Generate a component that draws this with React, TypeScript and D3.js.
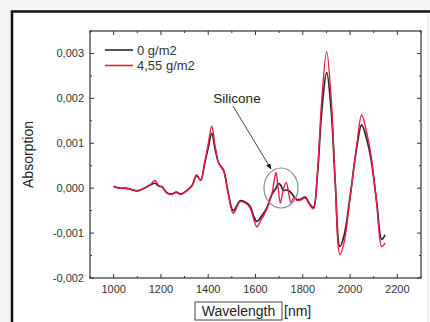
import React from "react";
import * as d3 from "d3";

// wavelength [nm]
const wavelength = [
  1000, 1025, 1050, 1070, 1100, 1130, 1155, 1175, 1190, 1205,
  1225, 1245, 1265, 1285, 1310, 1333, 1350, 1368, 1385, 1400,
  1415, 1430, 1445, 1465, 1485, 1506, 1535, 1556, 1577, 1592,
  1606, 1626, 1647, 1668, 1680, 1687, 1695, 1705, 1718, 1730,
  1740, 1750, 1762, 1775, 1790, 1810, 1830, 1845, 1862, 1880,
  1901, 1920, 1937, 1957, 1975, 2000, 2028, 2049, 2070, 2090,
  2113, 2134, 2148,
];

// absorption, 0 g/m2
const abs0 = [
  0.00004, 0.0, 0.0, -0.00002, -0.00006, 0.0, 0.00007, 0.00011, 0.00005, 0.00003,
  -0.0001, -0.00013, -0.00009, -0.00013, -0.00005, 0.00007, 0.00028, 0.00018, 0.00055, 0.0009,
  0.00122, 0.00085, 0.00055, 0.0004, -0.00011, -0.0005, -0.00028, -0.00031, -0.0004, -0.00062,
  -0.00074, -0.00062, -0.00045, -0.00015, -0.00005, 0.0, 0.0001, 0.00008, -0.00005, -0.00004,
  -0.00005, -0.0001, -0.00018, -0.00025, -0.00025, -0.0002, -0.00036, -0.00043, 0.0003, 0.0017,
  0.00258, 0.00175, 0.00015, -0.0013, -0.00105, -0.00019, 0.0009, 0.00141, 0.0011, 0.0006,
  -0.00033, -0.00114, -0.00104,
];

// absorption, 4,55 g/m2
const abs455 = [
  0.00004, 0.0, -0.00001, -0.00002, -0.00006, 0.0, 0.00008, 0.00017, 0.00006, 0.00002,
  -0.00011, -0.00014, -0.0001, -0.00014, -0.00006, 0.00006, 0.0003, 0.00017, 0.00058, 0.00098,
  0.00138, 0.00092, 0.00055, 0.00038, -0.00014, -0.00056, -0.0003, -0.00033, -0.00044, -0.00068,
  -0.00086, -0.00068, -0.00048, -0.00016, 0.0002, 0.00035, 0.00005, -0.00033, -0.00002, 0.00013,
  -0.0001, -0.00032, -0.00022, -0.00027, -0.00027, -0.00022, -0.00038, -0.00046, 0.00035, 0.00195,
  0.00304, 0.002, 0.00018, -0.00148, -0.0012, -0.00022, 0.00095, 0.00163, 0.00125, 0.00068,
  -0.00036, -0.0013, -0.00122,
];

const xMajor = [1000, 1200, 1400, 1600, 1800, 2000, 2200];
const xMinor = [900, 1100, 1300, 1500, 1700, 1900, 2100, 2300];
const yMajor = [-0.002, -0.001, 0, 0.001, 0.002, 0.003];
const yMinor = [-0.0015, -0.0005, 0.0005, 0.0015, 0.0025, 0.0035];
const seriesNames = ["0 g/m2", "4,55 g/m2"];

const W = 430;
const H = 322;
const m = { left: 90, top: 31, right: 421, bottom: 278 };
const font = "'Liberation Sans', Arial, sans-serif";

export default function App() {
  const x = d3.scaleLinear().domain([900, 2300]).range([m.left, m.right]);
  const y = d3.scaleLinear().domain([-0.002, 0.0035]).range([m.bottom, m.top]);

  const line = d3
    .line<number>()
    .x((_, i) => x(wavelength[i]))
    .y((d) => y(d))
    .curve(d3.curveCatmullRom.alpha(0.5));

  const fmt = (v: number) => d3.format(".3f")(v).replace("−", "-").replace(".", ",");

  return (
    <svg
      width={W}
      height={H}
      style={{ position: "absolute", left: 0, top: 0, display: "block" }}
      fontFamily={font}
    >
      <rect x={0} y={0} width={W} height={H} fill="#f3f3f3" />
      <rect x={12} y={11.5} width={W + 20} height={H + 20} fill="#fff" stroke="#111" strokeWidth={2.5} />
      <line x1={428} y1={14} x2={428} y2={H} stroke="#ddd" strokeWidth={1} />

      {/* ticks, all inward */}
      {xMajor.map((t) => (
        <g key={"xM" + t}>
          <line x1={x(t)} x2={x(t)} y1={m.bottom} y2={m.bottom - 4} stroke="#333" />
          <line x1={x(t)} x2={x(t)} y1={m.top} y2={m.top + 4} stroke="#333" />
          <text x={x(t)} y={m.bottom + 15} textAnchor="middle" fontSize={11} fill="#333">
            {t}
          </text>
        </g>
      ))}
      {xMinor.map((t) => (
        <g key={"xm" + t}>
          <line x1={x(t)} x2={x(t)} y1={m.bottom} y2={m.bottom - 2} stroke="#333" />
          <line x1={x(t)} x2={x(t)} y1={m.top} y2={m.top + 2} stroke="#333" />
        </g>
      ))}
      {yMajor.map((t) => (
        <g key={"yM" + t}>
          <line x1={m.left} x2={m.left + 4} y1={y(t)} y2={y(t)} stroke="#333" />
          <line x1={m.right} x2={m.right - 4} y1={y(t)} y2={y(t)} stroke="#333" />
          <text x={m.left - 6} y={y(t) + 4} textAnchor="end" fontSize={11} fill="#333">
            {fmt(t)}
          </text>
        </g>
      ))}
      {yMinor.map((t) => (
        <g key={"ym" + t}>
          <line x1={m.left} x2={m.left + 2} y1={y(t)} y2={y(t)} stroke="#333" />
          <line x1={m.right} x2={m.right - 2} y1={y(t)} y2={y(t)} stroke="#333" />
        </g>
      ))}

      <rect
        x={m.left}
        y={m.top}
        width={m.right - m.left}
        height={m.bottom - m.top}
        fill="none"
        stroke="#333"
        strokeWidth={1.2}
      />

      {/* curves */}
      <path d={line(abs0) ?? ""} fill="none" stroke="#262626" strokeWidth={1.7} />
      <path d={line(abs455) ?? ""} fill="none" stroke="#ee1c46" strokeWidth={1.4} />

      {/* legend */}
      <line x1={105} x2={133} y1={50} y2={50} stroke="#262626" strokeWidth={1.6} />
      <text x={137} y={54.5} fontSize={13} fill="#333">{seriesNames[0]}</text>
      <line x1={105} x2={133} y1={65.5} y2={65.5} stroke="#ee1c46" strokeWidth={1.6} />
      <text x={137} y={70} fontSize={13} fill="#333">{seriesNames[1]}</text>

      {/* annotation */}
      <defs>
        <marker id="arr" viewBox="0 0 10 10" refX={9} refY={5} markerWidth={6} markerHeight={6} orient="auto">
          <path d="M0,1 L10,5 L0,9 z" fill="#111" />
        </marker>
      </defs>
      <text x={237} y={103} textAnchor="middle" fontSize={13.5} fill="#222">Silicone</text>
      <line x1={233} y1={106} x2={271} y2={169} stroke="#444" strokeWidth={1} markerEnd="url(#arr)" />
      <ellipse cx={281} cy={188} rx={17} ry={20} fill="none" stroke="#7d8ea6" strokeWidth={1.2} />

      {/* axis titles */}
      <text
        transform={`translate(32.5,${(m.top + m.bottom) / 2}) rotate(-90)`}
        textAnchor="middle"
        fontSize={14}
        fill="#222"
      >
        Absorption
      </text>
      <rect x={195} y={302} width={87} height={18} fill="none" stroke="#444" strokeWidth={1} />
      <text x={238.5} y={316} textAnchor="middle" fontSize={14} fill="#222">Wavelength</text>
      <text x={284} y={316} fontSize={14} fill="#222">[nm]</text>
    </svg>
  );
}
